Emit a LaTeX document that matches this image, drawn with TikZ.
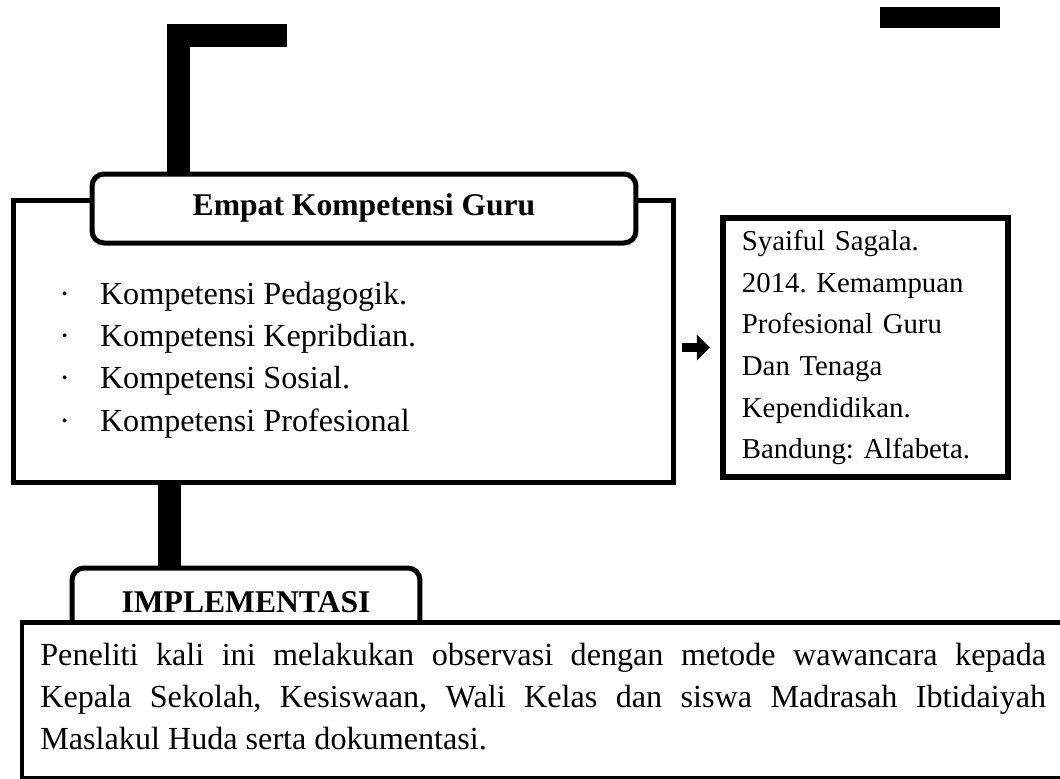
\documentclass[tikz,border=0pt]{standalone}
\usepackage{fontspec}
\setmainfont{Liberation Serif}
\usetikzlibrary{positioning}
\usetikzlibrary{arrows.meta}
\tikzset{main box/.style={rectangle,draw,line width=0.1cm,inner sep=0pt},
         tab box/.style={rectangle,draw,fill=white,line width=0.1cm,rounded corners=0.24cm,inner sep=0pt,font=\fontsize{18}{24.1}\selectfont\bfseries},
         body text/.style={inner sep=0pt,font=\fontsize{18.3}{24.1}\selectfont},
         ref text/.style={font=\fontsize{16.4}{23.7}\selectfont},
         bar/.style={line width=0.46cm,line join=miter},
         pointer/.style={line width=0.17cm,-{Triangle[length=0.26cm,width=0.5cm]}},
            }
\frenchspacing

\begin{document}
\begin{tikzpicture}[x=0.02cm,y=-0.02cm]
\useasboundingbox (0,0) rectangle (1060,778);
 \fill (880,7) rectangle (1000,28);
 \node[main box,minimum width=13.22cm,minimum height=5.66cm] (kom) at (343.5,341.5) {};
 \node[tab box,minimum width=10.88cm,text height=0.82cm,text depth=0.56cm,anchor=base] (ttl) at (364,215) {Empat Kompetensi Guru};
    \node[body text,anchor=base west] (lst) at (59,304) {\begin{tabular}[t]{@{}l@{\hspace{0.6cm}}l@{}}
      \textperiodcentered & Kompetensi Pedagogik.\\
      \textperiodcentered & Kompetensi Kepribdian.\\
      \textperiodcentered & Kompetensi Sosial.\\
      \textperiodcentered & Kompetensi Profesional
    \end{tabular}};
 \node[main box,ref text,line width=0.13cm,minimum width=5.7cm,minimum height=5.18cm,text width=4.94cm,inner xsep=0.38cm,align=left] (ref)[right=0.865cm of kom,yshift=-0.12cm] {Syaiful Sagala.\\ 2014. Kemampuan\\ Profesional Guru\\ Dan Tenaga\\ Kependidikan.\\ Bandung: Alfabeta.};
    \node[tab box,minimum width=6.96cm,text height=0.88cm,text depth=0.56cm,anchor=base] (imp) at (246,612) {IMPLEMENTASI};
    \node[main box,fill=white,minimum width=21.06cm,minimum height=3.14cm,anchor=north west] (obs) at (19.5,619.5) {};
        \node[body text,anchor=base west] (par) at (40,665) {\parbox[t]{20.12cm}{Peneliti kali ini melakukan observasi dengan metode wawancara kepada\linebreak
        Kepala Sekolah, Kesiswaan, Wali Kelas dan siswa Madrasah Ibtidaiyah\linebreak
        Maslakul Huda serta dokumentasi.}};

 \coordinate (flag) at (287,35.5);
 \coordinate (stem) at (178.5,35.5);
 \coordinate (foot) at (169.5,0);
    \path[draw,bar]
        (flag) -- (stem) -- (stem |- ttl.north);
    \path[draw,bar]
        (foot |- kom.south) -- (foot |- imp.north);
    \path[draw,pointer,shorten <=0.11cm,shorten >=0.195cm]
        (kom.east |- ref.west) -- (ref.west);

\end{tikzpicture}
\end{document}
